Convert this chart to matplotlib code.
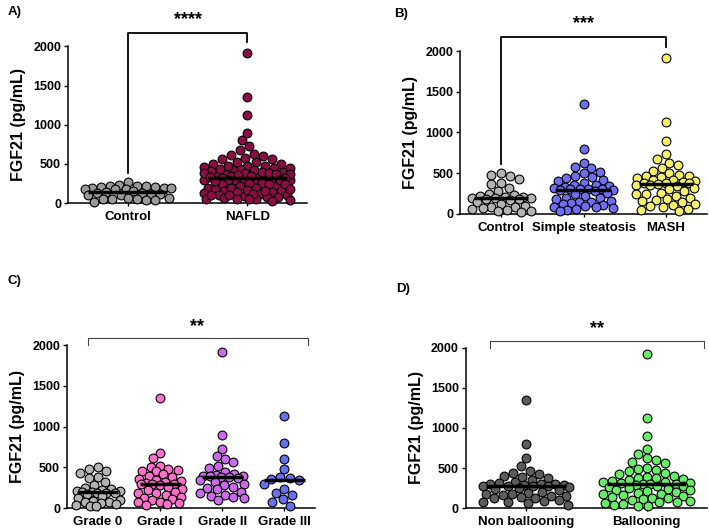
import numpy as np
import matplotlib
matplotlib.use('Agg')
import matplotlib.pyplot as plt

plt.rcParams['font.family'] = ['Liberation Sans', 'DejaVu Sans']
plt.rcParams['font.weight'] = 'bold'

# FGF21 values (pg/mL)
control_a = [265, 230, 225, 220, 215, 210, 205, 200, 195, 190, 185, 180, 175, 150,
             140, 130, 125, 120, 115, 110, 100, 70, 65, 60, 55, 50, 45, 40, 20]

control_b = [500, 480, 460, 430, 380, 370, 320, 280, 250, 230, 220, 210, 205, 200,
             195, 190, 185, 180, 170, 150, 120, 100, 90, 80, 70, 60, 50, 40, 30, 20]
steatosis = [1350, 800, 620, 580, 560, 520, 500, 470, 450, 440, 420, 400, 380, 360,
             350, 340, 330, 320, 310, 305, 300, 300, 295, 290, 280, 260, 240, 220,
             200, 190, 180, 160, 150, 140, 130, 120, 110, 100, 90, 80, 70, 60, 50, 40]
mash = [1920, 1130, 900, 730, 680, 630, 600, 560, 530, 500, 480, 470, 460, 450, 440,
        420, 410, 400, 390, 385, 380, 375, 370, 360, 350, 340, 320, 300, 280, 260,
        250, 240, 220, 200, 180, 170, 160, 140, 120, 110, 100, 80, 60, 50, 30]
nafld = steatosis + mash

grade0 = [500, 480, 460, 430, 380, 370, 320, 280, 250, 230, 220, 210, 205, 200,
          195, 190, 185, 180, 170, 150, 120, 100, 90, 80, 70, 60, 50, 40, 30, 20]
grade1 = [1350, 680, 620, 520, 500, 480, 470, 460, 450, 420, 400, 380, 360, 340,
          330, 320, 310, 300, 300, 290, 280, 260, 240, 220, 200, 190, 180, 160,
          140, 120, 110, 100, 80, 70, 60, 50, 40]
grade2 = [1920, 900, 730, 640, 600, 560, 520, 490, 440, 420, 410, 400, 395, 390,
          385, 380, 370, 340, 320, 300, 280, 260, 250, 230, 200, 180, 160, 150,
          140, 120, 100]
grade3 = [1130, 800, 600, 480, 380, 370, 360, 350, 300, 230, 180, 160, 110, 80, 30]

non_ballooning = [1350, 800, 620, 520, 460, 440, 430, 400, 390, 370, 350, 320, 310,
                  300, 300, 295, 290, 285, 280, 280, 275, 270, 260, 250, 240, 220,
                  200, 190, 180, 170, 160, 150, 150, 140, 130, 120, 100, 90, 80, 70,
                  60, 40]
ballooning = [1920, 1130, 900, 740, 680, 620, 600, 580, 560, 500, 490, 480, 460, 440,
              420, 400, 390, 380, 370, 360, 350, 340, 330, 320, 315, 310, 305, 300,
              300, 290, 280, 270, 260, 250, 240, 230, 220, 210, 200, 190, 180, 170,
              160, 150, 140, 130, 120, 110, 100, 90, 80, 70, 60, 50, 40, 30, 20]

W, H = 709, 532
DIAM = 8.8   # marker diameter in px


def swarm(vals, pos, ax, ncat, diam=DIAM, maxw=0.36):
    # greedy beeswarm, allows overlap once the band is full
    bb = ax.get_position()
    sx = bb.width * W / ncat
    sy = bb.height * H / 2000.0
    vals = np.asarray(vals, float)
    cand = np.linspace(-maxw, maxw, 49)
    cand = cand[np.argsort(np.abs(cand), kind='stable')]
    placed = []
    xs = np.zeros(len(vals))
    for i in np.argsort(vals)[::-1]:
        y = vals[i] * sy
        best, bestd = 0.0, -1
        for c in cand:
            if placed:
                p = np.array(placed)
                d = np.min(np.hypot((p[:, 0] - c) * sx, p[:, 1] - y))
            else:
                d = np.inf
            if d >= diam:
                best = c
                break
            if d > bestd:
                best, bestd = c, d
        placed.append((best, y))
        xs[i] = pos + best
    return xs


def panel(rect, groups, names, colors, letter, letter_xy):
    ax = fig.add_axes(rect)
    n = len(groups)
    ax.set_xlim(-0.5, n - 0.5)
    ax.set_ylim(0, 2000)
    for i, (g, c) in enumerate(zip(groups, colors)):
        xs = swarm(g, i, ax, n)
        ax.scatter(xs, g, s=DIAM ** 2 * 0.52, color=c, edgecolors='black',
                   linewidths=0.8, zorder=3, clip_on=False)
        ax.hlines(np.median(g), i - 0.33, i + 0.33, color='black', lw=2.5, zorder=4)
    ax.set_xticks(range(n))
    ax.set_xticklabels(names, fontsize=9.5, fontweight='bold')
    ax.set_yticks([0, 500, 1000, 1500, 2000])
    ax.tick_params(axis='y', labelsize=9, length=3, width=1, pad=2)
    ax.tick_params(axis='x', length=2.5, width=1, pad=3)
    ax.set_ylabel('FGF21 (pg/mL)', fontsize=11.5, fontweight='bold', labelpad=5)
    for s in ['top', 'right']:
        ax.spines[s].set_visible(False)
    for s in ['left', 'bottom']:
        ax.spines[s].set_linewidth(1.1)
    fig.text(letter_xy[0] / W, 1 - letter_xy[1] / H, letter, fontsize=9.5,
             fontweight='bold', va='top')
    return ax


fig = plt.figure(figsize=(W / 100, H / 100), dpi=100)

# A)
ax = panel([0.096, 0.618, 0.337, 0.295], [control_a, nafld], ['Control', 'NAFLD'],
           ['#9a9a9a', '#8c0d45'], 'A)', (8, 6))
ax.plot([0, 0, 1, 1], [380, 2170, 2170, 2050], color='black', lw=1.3, clip_on=False)
ax.text(0.5, 2230, '****', ha='center', va='bottom', fontsize=13, fontweight='bold')

# B)
ax = panel([0.649, 0.598, 0.348, 0.306], [control_b, steatosis, mash],
           ['Control', 'Simple steatosis', 'MASH'],
           ['#b4b4b4', '#6e6ef2', '#f5f06a'], 'B)', (394, 8))
ax.plot([0, 0, 2, 2], [610, 2170, 2170, 2050], color='black', lw=1.3, clip_on=False)
ax.text(1, 2230, '***', ha='center', va='bottom', fontsize=13, fontweight='bold')

# C)
ax = panel([0.0945, 0.045, 0.35, 0.306], [grade0, grade1, grade2, grade3],
           ['Grade 0', 'Grade I', 'Grade II', 'Grade III'],
           ['#b4b4b4', '#ff6fcc', '#cc6aee', '#6670f0'], 'C)', (8, 275))
ax.plot([-0.16, -0.16, 3.39, 3.39], [2000, 2086, 2086, 2000], color='#444444',
        lw=0.8, clip_on=False)
ax.text(1.6, 2130, '**', ha='center', va='bottom', fontsize=13, fontweight='bold')

# D)
ax = panel([0.657, 0.045, 0.34, 0.301], [non_ballooning, ballooning],
           ['Non ballooning', 'Ballooning'],
           ['#5c5c5c', '#66ee66'], 'D)', (396, 283))
ax.plot([-0.3, -0.3, 1.475, 1.475], [2000, 2090, 2090, 2000], color='#444444',
        lw=0.8, clip_on=False)
ax.text(0.59, 2130, '**', ha='center', va='bottom', fontsize=13, fontweight='bold')

fig.savefig('out.png', dpi=100)
